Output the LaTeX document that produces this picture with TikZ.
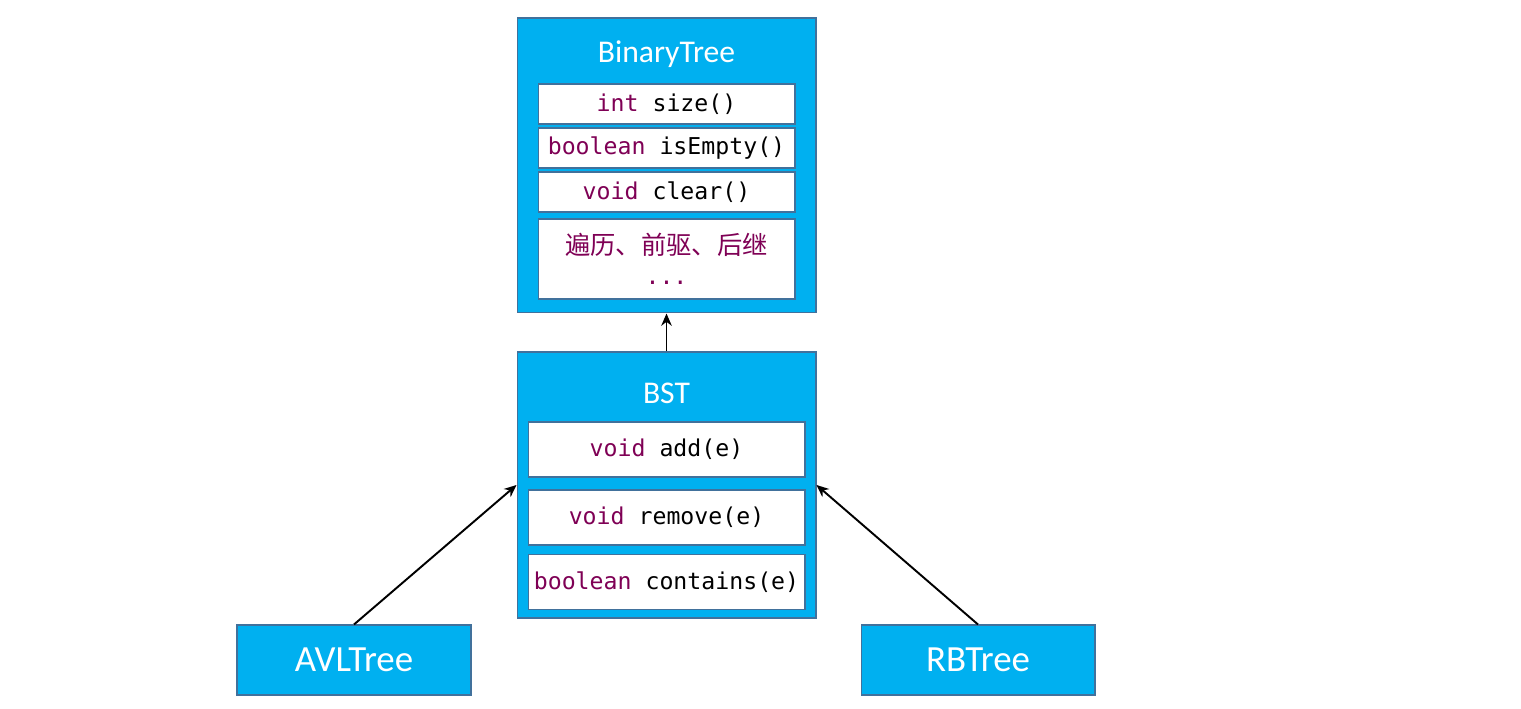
\documentclass[tikz,border=0pt]{standalone}
\usepackage{fontspec}
\setmainfont{Carlito}
\setmonofont{DejaVu Sans Mono}
\newfontfamily\cjk{Noto Sans CJK SC}
\usetikzlibrary{arrows.meta}
\definecolor{boxblue}{HTML}{00B0F0}
\definecolor{edgeblue}{HTML}{41719C}
\definecolor{keyword}{HTML}{7F0055}
\newcommand{\kw}[1]{\textcolor{keyword}{#1}}
\tikzset{
  classbox/.style={draw=edgeblue, fill=boxblue, line width=0.6pt, inner sep=0pt, minimum width=5.98cm},
  classtitle/.style={text=white, font=\fontsize{18}{20}\selectfont},
  methodbox/.style={draw=edgeblue, fill=white, line width=0.6pt, inner sep=0pt,
    font=\fontsize{13.2}{15}\ttfamily},
  leafbox/.style={draw=edgeblue, fill=boxblue, line width=0.6pt, minimum width=4.68cm,
    minimum height=1.4cm, text=white, font=\fontsize{21}{24}\selectfont},
  inherit/.style={-{Stealth[length=7pt,width=6pt]}, line width=1.1pt}
}
\begin{document}
\begin{tikzpicture}[x=0.02cm,y=-0.02cm]
\useasboundingbox (0,0) rectangle (1521,709);
        % BinaryTree
        \node[classbox, minimum height=5.9cm] (bt) at (666.5,165.5) {};
        \node[classtitle] (btname) at (666.5,54) {BinaryTree};
        \node[methodbox, minimum width=5.14cm, minimum height=0.8cm] (size) at (666.5,104) {\kw{int} size()};
        \node[methodbox, minimum width=5.14cm, minimum height=0.8cm] (empty) at (666.5,148) {\kw{boolean} isEmpty()};
        \node[methodbox, minimum width=5.14cm, minimum height=0.8cm] (clear) at (666.5,192) {\kw{void} clear()};
        \node[methodbox, minimum width=5.14cm, minimum height=1.6cm, align=center] (more) at (666.5,259)
          {\textcolor{keyword}{{\cjk\fontsize{14.4}{19.4}\selectfont 遍历、前驱、后继}}\\[2pt]\kw{...}};
        % BST
        \node[classbox, minimum height=5.32cm] (bst) at (666.5,485) {};
        \node[classtitle] (bstname) at (666.5,393) {BST};
        \node[methodbox, minimum width=5.54cm, minimum height=1.1cm] (add) at (666.5,449.5) {\kw{void} add(e)};
        \node[methodbox, minimum width=5.54cm, minimum height=1.1cm] (remove) at (666.5,517.5) {\kw{void} remove(e)};
        \node[methodbox, minimum width=5.54cm, minimum height=1.1cm] (contains) at (666.5,582) {\kw{boolean} contains(e)};
        % subclasses
        \node[leafbox] (avl) at (354,660) {AVLTree};
        \node[leafbox] (rb) at (978,660) {RBTree};
        \draw[inherit] (bst.north) -- (bt.south);
        \draw[inherit] (avl.north) -- (bst.west);
        \draw[inherit] (rb.north) -- (bst.east);
\end{tikzpicture}
\end{document}
